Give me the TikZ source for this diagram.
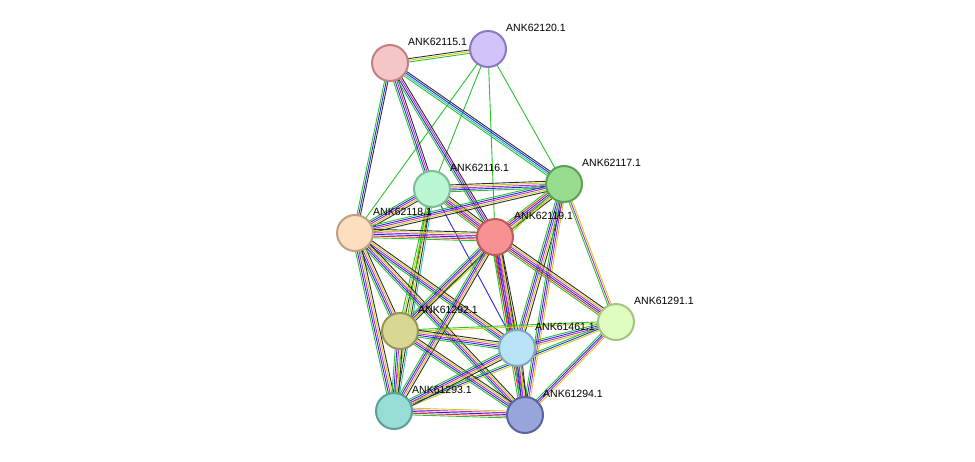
\documentclass[tikz,border=0pt]{standalone}
\usepackage{fontspec}
\setmainfont{Liberation Sans}
\usetikzlibrary{calc}
\definecolor{Y}{RGB}{205,205,30}
\definecolor{G}{RGB}{40,195,40}
\definecolor{B}{RGB}{40,40,235}
\definecolor{P}{RGB}{190,40,200}
\definecolor{K}{RGB}{45,45,45}
\definecolor{R}{RGB}{235,40,40}
\definecolor{C}{RGB}{40,190,190}
\tikzset{prot/.style={circle,minimum size=36pt,inner sep=0pt,line width=2pt},
 lab/.style={anchor=west,font=\fontsize{10.5}{11}\selectfont,inner sep=0pt}}
\newcommand{\E}[3]{%
 \foreach \c [count=\i] in {#3} {\xdef\nn{\i}}%
 \foreach \c [count=\i] in {#3} {%
  \pgfmathsetmacro\o{(\i-1-(\nn-1)/2)*1.7}%
  \draw[\c,line width=0.9pt] ($(#1)!\o pt!90:(#2)$) -- ($(#2)!\o pt!-90:(#1)$);}%
}
\begin{document}
\begin{tikzpicture}[x=1pt,y=-1pt]
\useasboundingbox (0,0) rectangle (975,461);
\coordinate (a15) at (390,63);
\coordinate (a20) at (488,49);
\coordinate (a17) at (564,184);
\coordinate (a16) at (432,189);
\coordinate (a18) at (355,233);
\coordinate (a19) at (495,237);
\coordinate (b91) at (616,322);
\coordinate (b92) at (400,331);
\coordinate (b61) at (517,348);
\coordinate (b93) at (394,411);
\coordinate (b94) at (525,415);
% edges
\E{a15}{a20}{G,Y,K}
\E{a20}{a17}{G}\E{a20}{a18}{G}\E{a20}{a16}{G}\E{a20}{a19}{G}
\E{a15}{a18}{G,B,K}
\E{a15}{a16}{G,B,P,K}
\E{a15}{a19}{G,B,P,K}
\E{a15}{a17}{G,C,B,K}
\E{a16}{a17}{G,B,P,Y,K}
\E{a16}{a19}{G,R,B,P,Y,K}
\E{a16}{a18}{G,B,P,Y,K}
\E{a16}{b92}{G,Y,K}
\E{a16}{b93}{G,Y,K,C}
\E{a16}{b61}{B}
\E{a17}{a18}{G,B,P,Y,K}
\E{a17}{a19}{G,R,B,P,Y,K}
\E{a17}{b91}{G,P,Y}
\E{a17}{b61}{G,B,P,Y,K}
\E{a17}{b94}{G,B,P,Y}
\E{a17}{b92}{G,Y}
\E{a18}{a19}{G,R,B,P,Y,K}
\E{a18}{b92}{G,B,P,Y,K}
\E{a18}{b93}{G,B,P,Y,K}
\E{a18}{b61}{G,B,P,Y,K}
\E{a18}{b94}{G,B,P,Y,K}
\E{a19}{b91}{G,R,B,P,Y,K}
\E{a19}{b92}{G,B,P,Y,K}
\E{a19}{b61}{G,R,B,P,Y,K}
\E{a19}{b93}{G,B,P,Y,K}
\E{a19}{b94}{G,R,B,P,Y,K}
\E{b91}{b61}{G,B,P,Y}
\E{b91}{b92}{G,Y}
\E{b91}{b93}{G,B,Y}
\E{b91}{b94}{G,B,P,Y}
\E{b92}{b61}{G,B,P,Y,K}
\E{b92}{b93}{G,B,P,Y,K}
\E{b92}{b94}{G,B,P,Y,K}
\E{b61}{b93}{G,B,P,Y,K}
\E{b61}{b94}{G,B,P,Y,K}
\E{b93}{b94}{G,R,B,P,Y}
% nodes
\node[prot,fill={rgb,255:red,246;green,198;blue,198},draw={rgb,255:red,190;green,130;blue,130}] (n15) at (a15) {};
\node[prot,fill={rgb,255:red,210;green,195;blue,250},draw={rgb,255:red,140;green,120;blue,200}] (n20) at (a20) {};
\node[prot,fill={rgb,255:red,152;green,220;blue,144},draw={rgb,255:red,90;green,160;blue,85}] (n17) at (a17) {};
\node[prot,fill={rgb,255:red,185;green,248;blue,210},draw={rgb,255:red,125;green,190;blue,150}] (n16) at (a16) {};
\node[prot,fill={rgb,255:red,253;green,223;blue,192},draw={rgb,255:red,190;green,160;blue,130}] (n18) at (a18) {};
\node[prot,fill={rgb,255:red,248;green,145;blue,145},draw={rgb,255:red,190;green,90;blue,90}] (n19) at (a19) {};
\node[prot,fill={rgb,255:red,225;green,252;blue,192},draw={rgb,255:red,165;green,195;blue,130}] (m91) at (b91) {};
\node[prot,fill={rgb,255:red,216;green,216;blue,148},draw={rgb,255:red,150;green,150;blue,90}] (m92) at (b92) {};
\node[prot,fill={rgb,255:red,185;green,228;blue,248},draw={rgb,255:red,125;green,170;blue,195}] (m61) at (b61) {};
\node[prot,fill={rgb,255:red,152;green,220;blue,214},draw={rgb,255:red,90;green,160;blue,150}] (m93) at (b93) {};
\node[prot,fill={rgb,255:red,152;green,164;blue,220},draw={rgb,255:red,90;green,100;blue,160}] (m94) at (b94) {};
% labels
\node[lab] (l15) at (408,42) {ANK62115.1};
\node[lab] (l20) at (506,28) {ANK62120.1};
\node[lab] (l17) at (582,163) {ANK62117.1};
\node[lab] (l16) at (450,168) {ANK62116.1};
\node[lab] (l18) at (373,212) {ANK62118.1};
\node[lab] (l19) at (514,216) {ANK62119.1};
\node[lab] (l91) at (634,301) {ANK61291.1};
\node[lab] (l92) at (418,310) {ANK61292.1};
\node[lab] (l61) at (535,327) {ANK61461.1};
\node[lab] (l93) at (412,390) {ANK61293.1};
\node[lab] (l94) at (543,394) {ANK61294.1};
\end{tikzpicture}
\end{document}
